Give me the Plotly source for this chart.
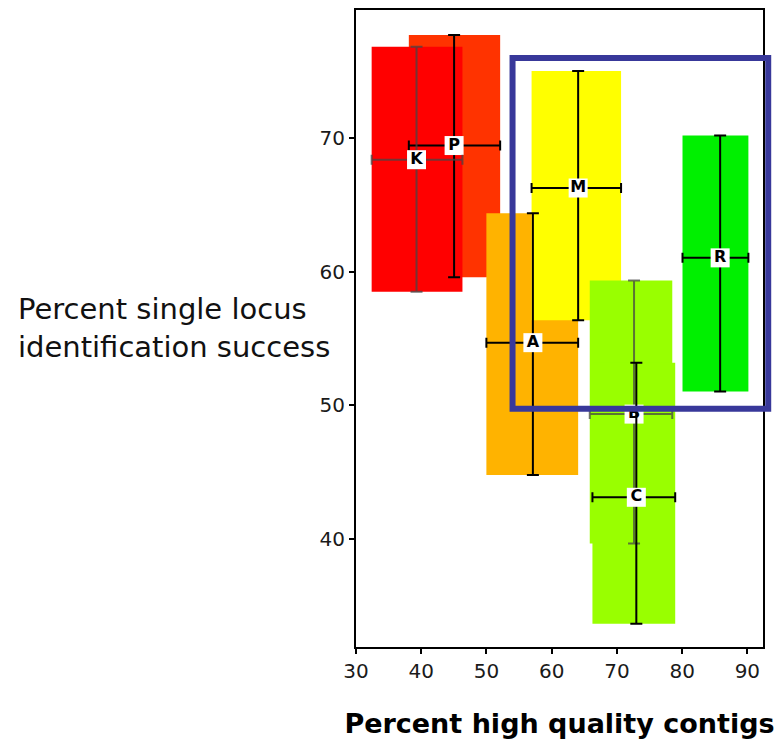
import plotly.graph_objects as go

# Each group: label, mean and range on both axes
labels = ["P", "K", "A", "M", "B", "C", "R"]
x_mean = [45.04, 39.28, 57.12, 64.06, 72.63, 72.98, 85.83]
x_low = [38.1, 32.40, 49.99, 56.92, 65.84, 66.25, 80.06]
x_high = [52.1, 46.32, 64.06, 70.64, 78.49, 78.94, 90.16]
y_mean = [69.45, 68.39, 54.69, 66.27, 49.34, 43.11, 61.04]
y_low = [59.59, 58.50, 44.78, 56.36, 39.65, 33.65, 51.03]
y_high = [77.72, 76.85, 64.38, 75.03, 59.35, 53.19, 70.20]

fill_colors = ["#FF3300", "#FF0000", "#FFB300", "#FFFF00", "#99FF00", "#99FF00", "#00F000"]
bar_colors = ["#000000", "rgba(70,70,70,0.75)", "#000000", "#000000",
              "rgba(70,70,70,0.75)", "#000000", "#000000"]

# Highlighted region (x from, x to, y from, y to)
highlight_x = [54.0, 93.2]
highlight_y = [49.75, 76.0]

X_RANGE = [30, 92.4]
Y_RANGE = [31.9, 79.6]

fig = go.Figure()

# Shaded boxes spanning each group's range
for i, lab in enumerate(labels):
    fig.add_trace(go.Scatter(
        x=[x_low[i], x_high[i], x_high[i], x_low[i], x_low[i]],
        y=[y_low[i], y_low[i], y_high[i], y_high[i], y_low[i]],
        mode="lines", fill="toself", fillcolor=fill_colors[i],
        line=dict(width=0, color=fill_colors[i]),
        hoverinfo="skip", showlegend=False,
    ))

# Cross-shaped error bars with a letter label at the mean
for i, lab in enumerate(labels):
    fig.add_trace(go.Scatter(
        x=[x_mean[i]], y=[y_mean[i]],
        mode="markers+text",
        marker=dict(symbol="square", size=19, color="white", line=dict(width=0)),
        text=[f"<b>{lab}</b>"], textposition="middle center",
        textfont=dict(family="DejaVu Sans", size=16, color="black"),
        error_x=dict(type="data", symmetric=False,
                     array=[x_high[i] - x_mean[i]], arrayminus=[x_mean[i] - x_low[i]],
                     color=bar_colors[i], thickness=2, width=5),
        error_y=dict(type="data", symmetric=False,
                     array=[y_high[i] - y_mean[i]], arrayminus=[y_mean[i] - y_low[i]],
                     color=bar_colors[i], thickness=2, width=6),
        showlegend=False, name=lab,
    ))

def to_paper(v, rng):
    return (v - rng[0]) / (rng[1] - rng[0])

fig.add_shape(
    type="rect", xref="paper", yref="paper", layer="above",
    x0=to_paper(highlight_x[0], X_RANGE), x1=to_paper(highlight_x[1], X_RANGE),
    y0=to_paper(highlight_y[0], Y_RANGE), y1=to_paper(highlight_y[1], Y_RANGE),
    line=dict(color="#38389A", width=6), fillcolor="rgba(0,0,0,0)",
)

fig.add_annotation(
    xref="paper", yref="paper", x=-0.836, y=to_paper(55.8, Y_RANGE),
    xanchor="left", yanchor="middle", align="left", showarrow=False,
    text="Percent single locus<br>identification success",
    font=dict(family="DejaVu Sans", size=29, color="#111111"),
)

axis_common = dict(
    showline=True, linecolor="black", linewidth=2, mirror=True,
    ticks="outside", ticklen=5, tickwidth=2, tickcolor="black",
    showgrid=False, zeroline=False,
    tickfont=dict(family="DejaVu Sans", size=20, color="#1a1a1a"),
)

fig.update_xaxes(range=X_RANGE, tickvals=[30, 40, 50, 60, 70, 80, 90],
                 title=dict(text="<b>Percent high quality contigs</b>",
                            font=dict(family="DejaVu Sans", size=27, color="black"),
                            standoff=32),
                 **axis_common)
fig.update_yaxes(range=Y_RANGE, tickvals=[40, 50, 60, 70], **axis_common)

fig.update_layout(
    width=774, height=745,
    margin=dict(l=356, r=11, t=8, b=98),
    plot_bgcolor="white", paper_bgcolor="white",
)

fig.write_html("out.html")
